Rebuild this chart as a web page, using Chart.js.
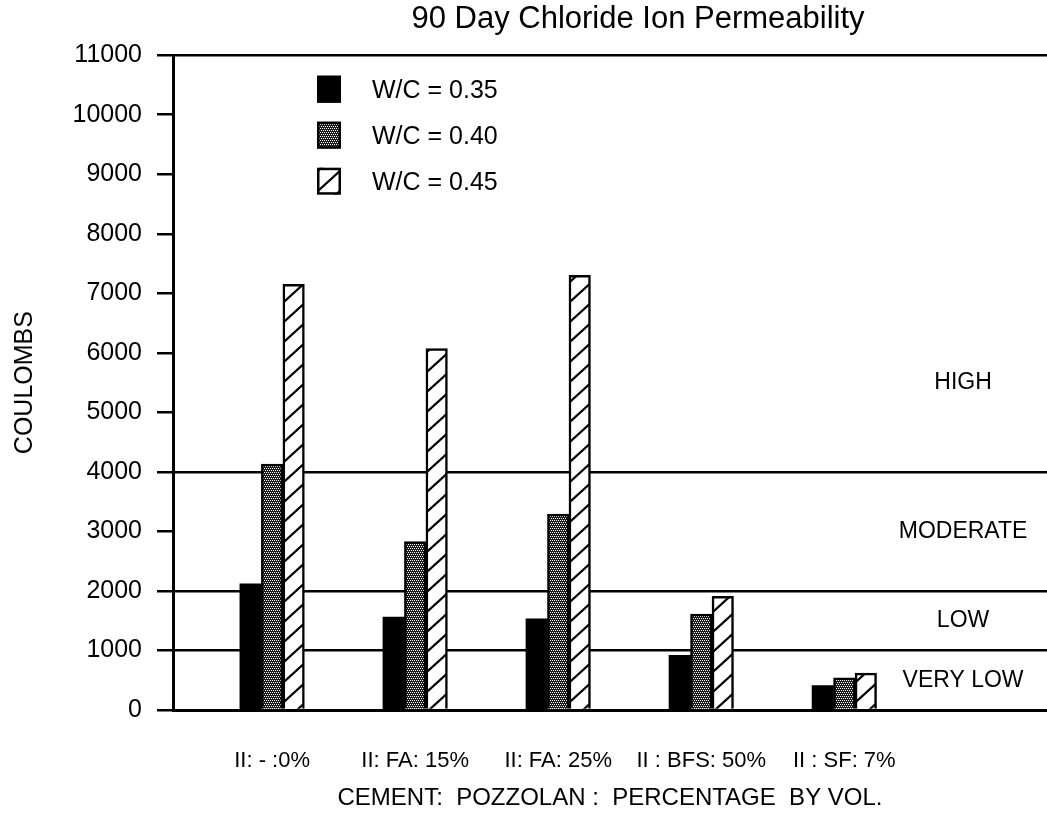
<!DOCTYPE html>
<html>
<head>
<meta charset="utf-8">
<script src="https://cdn.jsdelivr.net/npm/chart.js@4.4.1/dist/chart.umd.min.js"></script>
<style>
html,body{margin:0;padding:0;background:#fff;}
#wrap{width:1047px;height:819px;}
</style>
</head>
<body>
<div id="wrap"><canvas id="c" width="1047" height="819"></canvas></div>
<script>
// ---- data ----
const categories = ['II: - :0%', 'II: FA: 15%', 'II: FA: 25%', 'II : BFS: 50%', 'II : SF: 7%'];
const seriesLabels = ['W/C = 0.35', 'W/C = 0.40', 'W/C = 0.45'];
const wc035 = [2120, 1560, 1530, 920, 410];
const wc040 = [4130, 2830, 3290, 1610, 540];
const wc045 = [7150, 6070, 7300, 1910, 620];
const yTickStep = 1000;
const yMax = 11000;
const bandLines = [0, 1000, 2000, 4000, 11000];
const bandLabels = ['HIGH', 'MODERATE', 'LOW', 'VERY LOW'];
const bandLabelValues = [5500, 3000, 1500, 500];
const chartTitle = '90 Day Chloride Ion Permeability';
const xTitle = 'CEMENT:  POZZOLAN :  PERCENTAGE  BY VOL.';
const yTitle = 'COULOMBS';

const FONT = "'Liberation Sans', Arial, Helvetica, sans-serif";
Chart.defaults.font.family = FONT;
Chart.defaults.color = '#000';

function stipplePattern() {
  const c = document.createElement('canvas');
  c.width = 4; c.height = 4;
  const g = c.getContext('2d');
  g.fillStyle = '#1c1c1c'; g.fillRect(0, 0, 4, 4);
  g.fillStyle = '#ffffff';
  [[0,0],[2,0],[1,2],[3,2]].forEach(p => g.fillRect(p[0], p[1], 1, 1));
  return g.createPattern(c, 'repeat');
}
function hatchPattern() {
  const W = 22, H = 20;
  const c = document.createElement('canvas');
  c.width = W; c.height = H;
  const g = c.getContext('2d');
  g.fillStyle = '#fff'; g.fillRect(0, 0, W, H);
  g.strokeStyle = '#000'; g.lineWidth = 2.2;
  // lines x/W + y/H = k, k = 0,1,2
  [0, 1, 2].forEach(k => {
    g.beginPath();
    g.moveTo(k * W - 2 * W, 2 * H);
    g.lineTo(k * W + W, -H);
    g.stroke();
  });
  return g.createPattern(c, 'repeat');
}

const ctx = document.getElementById('c').getContext('2d');
const stipple = stipplePattern();
const hatch = hatchPattern();
const toPoints = arr => arr.map((v, i) => ({ x: i, y: v }));

const titleShift = {
  id: 'titleShift',
  afterLayout(chart, args, o) {
    const t = chart.titleBlock;
    if (t) { t.left += o.dx; t.right += o.dx; }
  }
};

const boxLegend = {
  id: 'boxLegend',
  afterDraw(chart, args, o) {
    const { ctx, chartArea } = chart;
    ctx.save();
    chart.data.datasets.forEach((ds, i) => {
      const x = chartArea.left + o.offsetX;
      const yc = chartArea.top + o.offsetY + i * o.rowGap;
      ctx.fillStyle = ds.backgroundColor;
      ctx.fillRect(x, yc - o.boxH / 2, o.boxW, o.boxH);
      ctx.lineWidth = 2.5; ctx.strokeStyle = '#000';
      ctx.strokeRect(x + 1.25, yc - o.boxH / 2 + 1.25, o.boxW - 2.5, o.boxH - 2.5);
      ctx.fillStyle = '#000';
      ctx.font = o.fontSize + 'px ' + FONT;
      ctx.textBaseline = 'middle';
      ctx.textAlign = 'left';
      ctx.fillText(ds.label, x + o.textGap, yc + 2);
    });
    ctx.restore();
  }
};

const bandText = {
  id: 'bandText',
  afterDatasetsDraw(chart, args, o) {
    const { ctx, scales } = chart;
    ctx.save();
    ctx.fillStyle = '#000';
    ctx.font = o.fontSize + 'px ' + FONT;
    ctx.textAlign = 'center';
    ctx.textBaseline = 'middle';
    const x = scales.x.getPixelForValue(o.xValue);
    bandLabels.forEach((t, i) => {
      ctx.fillText(t, x, scales.y.getPixelForValue(bandLabelValues[i]));
    });
    ctx.restore();
  }
};

new Chart(ctx, {
  type: 'bar',
  data: {
    datasets: [
      { label: seriesLabels[0], data: toPoints(wc035), backgroundColor: '#000', borderColor: '#000', borderWidth: 0 },
      { label: seriesLabels[1], data: toPoints(wc040), backgroundColor: stipple, borderColor: '#000', borderWidth: 2.5 },
      { label: seriesLabels[2], data: toPoints(wc045), backgroundColor: hatch, borderColor: '#000', borderWidth: 2.5 }
    ]
  },
  options: {
    responsive: false,
    animation: false,
    devicePixelRatio: 1,
    layout: { padding: 0 },
    datasets: { bar: { barThickness: 21.5, borderSkipped: 'start', grouped: true } },
    plugins: {
      legend: { display: false },
      tooltip: { enabled: false },
      title: {
        display: true, text: chartTitle, fullSize: false,
        font: { size: 31, weight: 'normal' }, color: '#000',
        padding: { top: 1, bottom: 17 }
      },
      titleShift: { dx: 28 },
      boxLegend: { offsetX: 144, offsetY: 34, rowGap: 46, boxW: 24, boxH: 27, textGap: 55, fontSize: 25 },
      bandText: { xValue: 4.83, fontSize: 23 }
    },
    scales: {
      x: {
        type: 'linear', min: -0.693, max: 5.417, offset: false,
        grid: { display: false, drawTicks: false, offset: false },
        border: { display: true, color: '#000', width: 3 },
        ticks: {
          stepSize: 1, includeBounds: false, autoSkip: false, maxRotation: 0, minRotation: 0,
          padding: 38, font: { size: 22 }, color: '#000',
          callback: v => (Number.isInteger(v) && v >= 0 && v < categories.length) ? categories[v] : ''
        },
        title: { display: true, text: xTitle, font: { size: 24 }, color: '#000', padding: { top: 0, bottom: 6 } },
        afterFit: s => { s.height = 109; }
      },
      y: {
        min: 0, max: yMax,
        ticks: { stepSize: yTickStep, padding: 15, font: { size: 25 }, color: '#000', callback: v => String(v) },
        grid: {
          color: c => bandLines.includes(c.tick.value) ? '#000' : 'rgba(0,0,0,0)',
          lineWidth: 2.5, tickColor: '#000', tickLength: 16, tickWidth: 2.5, drawTicks: true
        },
        border: { display: true, color: '#000', width: 3 },
        title: { display: true, text: yTitle, font: { size: 25 }, color: '#000', padding: { top: 10, bottom: 0 } },
        afterFit: s => { s.width = 173; }
      }
    }
  },
  plugins: [titleShift, boxLegend, bandText]
});
</script>
</body>
</html>
